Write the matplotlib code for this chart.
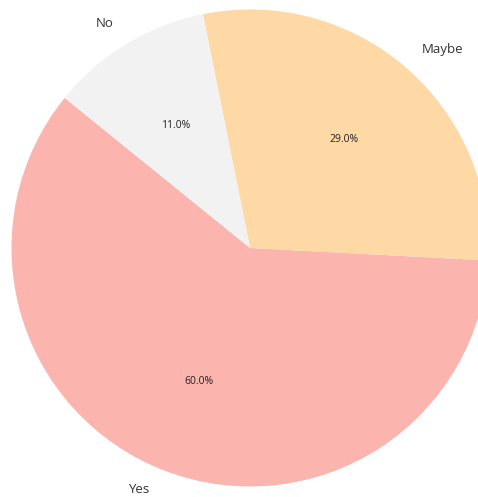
import matplotlib.pyplot as plt

# Data
labels = ['Yes', 'Maybe', 'No']
shares = [60.0, 29.0, 11.0]
colors = ['#fbb4ae', '#fed9a6', '#f2f2f2']

plt.rcParams['font.family'] = ['Open Sans', 'DejaVu Sans']

fig = plt.figure(figsize=(4.78, 4.97), dpi=100)
# axes placed so the pie sits like the original (slightly cut on the right)
ax = fig.add_axes([-0.0757, -0.0748, 1.1975, 1.1517])

wedges, texts, autotexts = ax.pie(shares, labels=labels, colors=colors,
                                  autopct='%1.1f%%', startangle=141,
                                  textprops={'fontsize': 9.5, 'color': '#333333'})
for t in autotexts:
    t.set_fontsize(7.5)
    t.set_color('#222222')

# keep the bottom label inside the picture
x, y = texts[0].get_position()
texts[0].set_position((x - 0.03, y + 0.015))

ax.set_aspect('auto')
ax.set_xlim(-1.2, 1.2)
ax.set_ylim(-1.2, 1.2)
ax.axis('off')

fig.savefig('out.png', dpi=100)
